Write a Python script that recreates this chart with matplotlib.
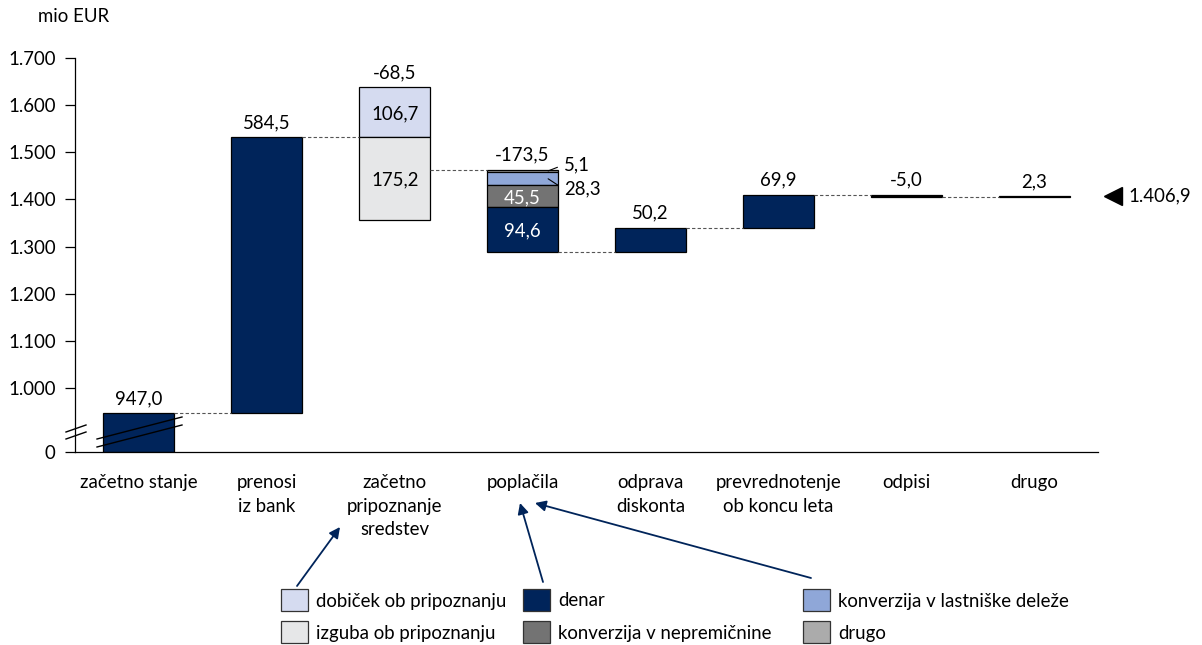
import matplotlib.pyplot as plt
from matplotlib.patches import Rectangle
from matplotlib.lines import Line2D

plt.rcParams['font.family'] = ['Lato', 'DejaVu Sans']
plt.rcParams['font.size'] = 13.4

# podatki (mio EUR)
kategorije = ['začetno stanje', 'prenosi\niz bank', 'začetno\npripoznanje\nsredstev', 'poplačila',
              'odprava\ndiskonta', 'prevrednotenje\nob koncu leta', 'odpisi', 'drugo']
zacetno = 947.0
prenosi = 584.5
dobicek = 106.7
izguba = 175.2
poplacila_denar = 94.6
poplacila_nepremicnine = 45.5
poplacila_delezi = 28.3
poplacila_drugo = 5.1
odprava = 50.2
prevrednotenje = 69.9
odpisi = -5.0
drugo = 2.3

ytick_vals = [1000, 1100, 1200, 1300, 1400, 1500, 1600, 1700]
ytick_lab = ['1.000', '1.100', '1.200', '1.300', '1.400', '1.500', '1.600', '1.700']
Y_NULA = 864.2  # kje na prekinjeni osi stoji "0"

# barve
c_navy = '#00245A'
c_dobicek = '#D5DBF0'
c_izguba = '#E6E7E8'
c_delezi = '#8FA7D8'
c_nepr = '#737373'
c_drugo = '#ABABAB'


def fmt(v):
    s = '{:,.1f}'.format(v).replace(',', 'X').replace('.', ',').replace('X', '.')
    return s


W, H = 1202, 645
fig = plt.figure(figsize=(W / 100, H / 100), dpi=100)
ax = fig.add_axes([75 / W, 1 - 452 / H, 1023 / W, (452 - 58) / H])

bw = 0.555
ec = 'black'
lw = 0.9

# tekoči seštevki
t1 = zacetno
t2 = t1 + prenosi
t3 = t2 + dobicek - izguba
t4 = t3 - (poplacila_denar + poplacila_nepremicnine + poplacila_delezi + poplacila_drugo)
t5 = t4 + odprava
t6 = t5 + prevrednotenje
t7 = t6 + odpisi
t8 = t7 + drugo

# stolpci
ax.bar(0, t1 - Y_NULA, bottom=Y_NULA, width=bw, color=c_navy, edgecolor=ec, lw=lw)
ax.bar(1, prenosi, bottom=t1, width=bw, color=c_navy, edgecolor=ec, lw=lw)
ax.bar(2, dobicek, bottom=t2, width=bw, color=c_dobicek, edgecolor=ec, lw=lw)
ax.bar(2, izguba, bottom=t2 - izguba, width=bw, color=c_izguba, edgecolor=ec, lw=lw)

b = t3
segs = [(poplacila_drugo, c_drugo), (poplacila_delezi, c_delezi),
        (poplacila_nepremicnine, c_nepr), (poplacila_denar, c_navy)]
mids = []
for v, c in segs:
    ax.bar(3, v, bottom=b - v, width=bw, color=c, edgecolor=ec, lw=lw)
    mids.append(b - v / 2)
    b -= v

ax.bar(4, odprava, bottom=t4, width=bw, color=c_navy, edgecolor=ec, lw=lw)
ax.bar(5, prevrednotenje, bottom=t5, width=bw, color=c_navy, edgecolor=ec, lw=lw)
ax.bar(6, -odpisi, bottom=t7, width=bw, color='black', edgecolor=ec, lw=lw)
ax.bar(7, drugo, bottom=t7, width=bw, color='black', edgecolor=ec, lw=lw)

# povezovalne črte
nivoji = [t1, t2, t3, t4, t5, t6, t7]
for i, lv in enumerate(nivoji):
    ax.plot([i + bw / 2, i + 1 - bw / 2], [lv, lv], color='#555555', lw=0.8,
            ls=(0, (3, 2)), zorder=1)

# oznake nad stolpci
vrhovi = [t1, t2, t2 + dobicek, t3, t5, t6, t6, t8]
vrednosti = [zacetno, prenosi, dobicek - izguba, t4 - t3, odprava, prevrednotenje, odpisi, drugo]
for i, (top, v) in enumerate(zip(vrhovi, vrednosti)):
    ax.annotate(fmt(v), (i, top), xytext=(0, 6.5), textcoords='offset points',
                ha='center', va='baseline')

# oznake v stolpcih
ax.text(2, t2 + dobicek / 2, fmt(dobicek), ha='center', va='center_baseline')
ax.text(2, t2 - izguba / 2, fmt(izguba), ha='center', va='center_baseline')
ax.text(3, mids[2], fmt(poplacila_nepremicnine), ha='center', va='center_baseline', color='white')
ax.text(3, mids[3], fmt(poplacila_denar), ha='center', va='center_baseline', color='white')

ax.annotate(fmt(poplacila_drugo), (3.2, mids[0]), xytext=(11.5, 4.5), textcoords='offset points',
            ha='left', va='center',
            arrowprops=dict(arrowstyle='-', lw=0.8, color='black', relpos=(0, 0.5),
                            shrinkA=3, shrinkB=0))
ax.annotate(fmt(poplacila_delezi), (3.2, mids[1]), xytext=(11.5, -7.5), textcoords='offset points',
            ha='left', va='center',
            arrowprops=dict(arrowstyle='-', lw=0.8, color='black', relpos=(0, 0.5),
                            shrinkA=3, shrinkB=0))

# končno stanje desno
ax.plot(7.62, t8, marker='<', ms=13, color='black', clip_on=False)
ax.text(7.74, t8, fmt(t8), ha='left', va='center')

# osi
ax.set_xlim(-0.5, 7.5)
ax.set_ylim(Y_NULA, 1700)
ax.set_yticks([Y_NULA] + ytick_vals)
ax.set_yticklabels(['0'] + ytick_lab)
ax.set_xticks(range(len(kategorije)))
ax.set_xticklabels(kategorije, linespacing=1.45, va='top')
ax.tick_params(axis='y', direction='out', length=7, width=0.9, pad=7)
ax.tick_params(axis='x', length=0, pad=16)
ax.spines['top'].set_visible(False)
ax.spines['right'].set_visible(False)
ax.spines['left'].set_linewidth(0.9)
ax.spines['bottom'].set_linewidth(0.9)

fig.text(38 / W, 1 - 17 / H, 'mio EUR', ha='left', va='center', fontsize=13.4)


def fp(x, y):
    return (x / W, 1 - y / H)


# prekinitev osi
for (x0, y0), (x1, y1) in [((66, 432), (86, 425)), ((66, 439), (86, 432)),
                           ((97, 439), (182, 417)), ((97, 447), (182, 425))]:
    a, bb = fp(x0, y0), fp(x1, y1)
    fig.add_artist(Line2D([a[0], bb[0]], [a[1], bb[1]], color='black', lw=1.0))

# legenda
leg = [((281, 589), c_dobicek, 'dobiček ob pripoznanju'),
       ((281, 621), c_izguba, 'izguba ob pripoznanju'),
       ((523, 589), c_navy, 'denar'),
       ((523, 621), c_nepr, 'konverzija v nepremičnine'),
       ((803, 589), c_delezi, 'konverzija v lastniške deleže'),
       ((803, 621), c_drugo, 'drugo')]
for (x, y), c, t in leg:
    fig.add_artist(Rectangle(fp(x, y + 22), 27 / W, 22 / H, transform=fig.transFigure,
                             facecolor=c, edgecolor='#333333', lw=0.9))
    fig.text((x + 35) / W, 1 - (y + 12) / H, t, ha='left', va='center')

# puščice
for (sx, sy), (tx, ty) in [((297, 586), (340, 527)), ((543, 582), (520, 503)),
                           ((811, 578), (535, 503))]:
    ax.annotate('', xy=(tx, H - ty), xycoords='figure pixels',
                xytext=(sx, H - sy), textcoords='figure pixels',
                arrowprops=dict(arrowstyle='-|>', color=c_navy, lw=1.3, mutation_scale=16,
                                shrinkA=0, shrinkB=0))

fig.savefig('out.png', dpi=100)
